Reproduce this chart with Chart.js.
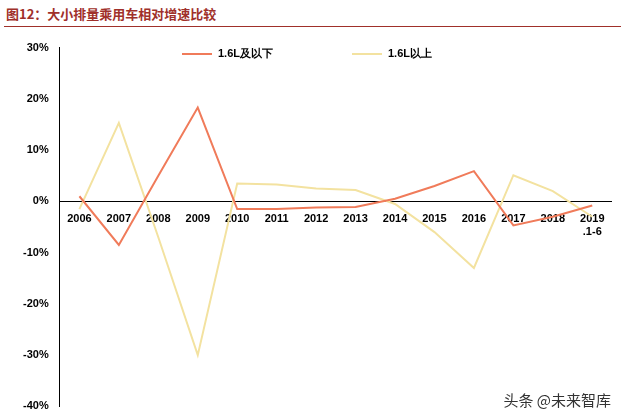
<!DOCTYPE html>
<html><head><meta charset="utf-8">
<script src="https://cdn.jsdelivr.net/npm/chart.js@4"></script>
<style>
body{margin:0;width:625px;height:416px;background:#fff;font-family:"Noto Sans CJK SC",sans-serif;position:relative;overflow:hidden}
#title{position:absolute;left:6px;top:4px;font-size:13px;font-weight:bold;color:#a0302a}
#rule{position:absolute;left:4px;right:4px;top:26px;border-top:1px solid #a0302a}
#wm{position:absolute;right:14px;bottom:6px;font-size:15px;color:#333}
#box{position:absolute;left:0;top:38px;width:612px;height:378px}
.lg{position:absolute;top:46px;font:bold 11px "Liberation Sans",sans-serif;color:#000;display:flex;align-items:center}
.lg i{display:inline-block;width:30px;height:2px;margin-right:6px}
</style></head><body>
<div id="title">图12：大小排量乘用车相对增速比较</div>
<div id="rule"></div>
<div id="box"><canvas id="c"></canvas></div>
<div class="lg" style="left:182px"><i style="background:#f07b5a"></i>1.6L及以下</div>
<div class="lg" style="left:352px"><i style="background:#f3e2a0"></i>1.6L以上</div>
<div id="wm">头条 @未来智库</div>
<script>
const categories = ['2006','2007','2008','2009','2010','2011','2012','2013','2014','2015','2016','2017','2018',['2019','.1-6']];
const small = [1, -8.5, 5, 18.3, -1.5, -1.5, -1.2, -1.1, 0.5, 3, 5.9, -4.7, -3, -0.8];
const large = [-1.5, 15.3, -7, -30, 3.5, 3.3, 2.5, 2.2, -0.5, -6, -13, 5.1, 2, -3];

new Chart(document.getElementById('c'), {
  type: 'line',
  data: {
    labels: categories,
    datasets: [
      {label: '1.6L及以下', data: small, borderColor: '#f07b5a', borderWidth: 2, pointRadius: 0, tension: 0},
      {label: '1.6L以上', data: large, borderColor: '#f3e2a0', borderWidth: 2, pointRadius: 0, tension: 0}
    ]
  },
  options: {
    responsive: true, maintainAspectRatio: false, animation: false,
    layout: {padding: {left: 20, right: 0, top: 2, bottom: 0}},
    plugins: {legend: {display: false}, tooltip: {enabled: false}},
    scales: {
      x: {position: {y: 0}, offset: true, grid: {display: false}, border: {color: '#000'},
          ticks: {color: '#000', font: {size: 11, weight: 'bold'}, maxRotation: 0, autoSkip: false}},
      y: {min: -40, max: 30, grid: {display: false}, border: {color: '#000'},
          ticks: {stepSize: 10, color: '#000', font: {size: 11, weight: 'bold'}, callback: v => v + '%'}}
    }
  }
});
</script>
</body></html>
